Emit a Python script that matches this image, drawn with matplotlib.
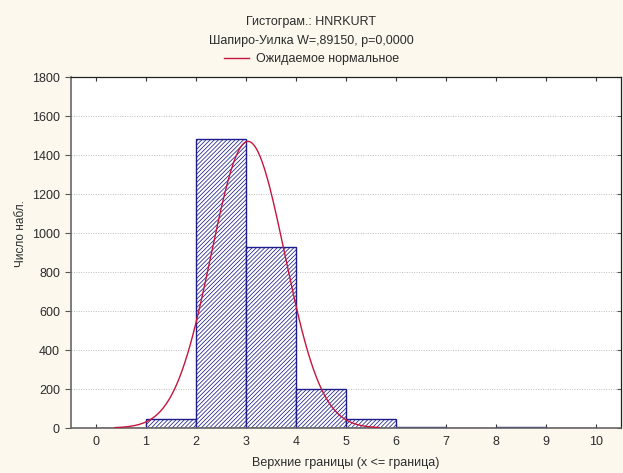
import numpy as np
import matplotlib.pyplot as plt
from matplotlib.lines import Line2D

plt.rcParams['font.family'] = ['Liberation Sans', 'DejaVu Sans']
plt.rcParams['hatch.color'] = '#2a2a8e'
plt.rcParams['hatch.linewidth'] = 0.55

# histogram bins (upper bounds) and counts
bin_upper = [1, 2, 3, 4, 5, 6, 7, 8, 9, 10]
counts = [0, 46, 1480, 930, 200, 46, 3, 0, 3, 0]

# parameters of the expected normal curve
fit_mean = 3.04
fit_sd = 0.735
fit_n = 2708
curve_lo, curve_hi = 0.38, 5.66

xticks = list(range(0, 11))
yticks = list(range(0, 1801, 200))

bg = '#fcf8ee'
txt = '#2b2b2b'

fig = plt.figure(figsize=(6.23, 4.73), dpi=100, facecolor=bg)
ax = fig.add_axes([71/623, 45/473, 550/623, 351/473])
ax.set_facecolor('white')

lefts = [u - 1 for u in bin_upper]
ax.bar(lefts, counts, width=1, align='edge', facecolor='white',
       edgecolor='#1c1c8a', linewidth=1.0, hatch='////////', zorder=2)

xs = np.linspace(curve_lo, curve_hi, 300)
ys = fit_n / (fit_sd * np.sqrt(2 * np.pi)) * np.exp(-0.5 * ((xs - fit_mean) / fit_sd) ** 2)
ax.plot(xs, ys, color='#c4163c', lw=1.0, zorder=3)

ax.set_xlim(-0.5, 10.5)
ax.set_ylim(0, 1800)
ax.set_xticks(xticks)
ax.set_yticks(yticks)
ax.yaxis.grid(True, linestyle=(0, (1, 1.5)), color='#bdbdbd', lw=0.7, zorder=0)
ax.set_axisbelow(True)

ax.tick_params(axis='x', direction='in', top=True, length=3, color='#333333',
               labelsize=9, labelcolor=txt, pad=6)
ax.tick_params(axis='y', direction='out', length=4, color='#555555',
               labelsize=9, labelcolor=txt, pad=4)
ax.tick_params(axis='y', which='major', right=True)
for t in ax.yaxis.get_major_ticks():
    t.tick2line.set_marker(0)  # right-side ticks point inward
    t.tick2line.set_markersize(3)

for side in ['left', 'bottom']:
    ax.spines[side].set_color('#666666')
    ax.spines[side].set_linewidth(1.2)
for side in ['top', 'right']:
    ax.spines[side].set_color('#222222')
    ax.spines[side].set_linewidth(0.9)

ax.set_xlabel('Верхние границы (x <= граница)', fontsize=9, color=txt, labelpad=6)
ax.set_ylabel('Число набл.', fontsize=8.5, color=txt)
ax.yaxis.set_label_coords(-0.08, 0.553)

fig.text(0.5, 1 - 22/473, 'Гистограм.: HNRKURT', ha='center', va='center',
         fontsize=9, color=txt)
fig.text(0.5, 1 - 41/473, 'Шапиро-Уилка W=,89150, p=0,0000', ha='center',
         va='center', fontsize=9, color=txt)
handle = Line2D([], [], color='#c4163c', lw=1.0)
fig.legend([handle], ['Ожидаемое нормальное'], loc='center',
           bbox_to_anchor=(0.5, 1 - 59/473), frameon=False, fontsize=9,
           handlelength=2.0, handletextpad=0.6, labelcolor=txt,
           borderaxespad=0, borderpad=0)

fig.savefig('out.png', dpi=100, facecolor=bg)
